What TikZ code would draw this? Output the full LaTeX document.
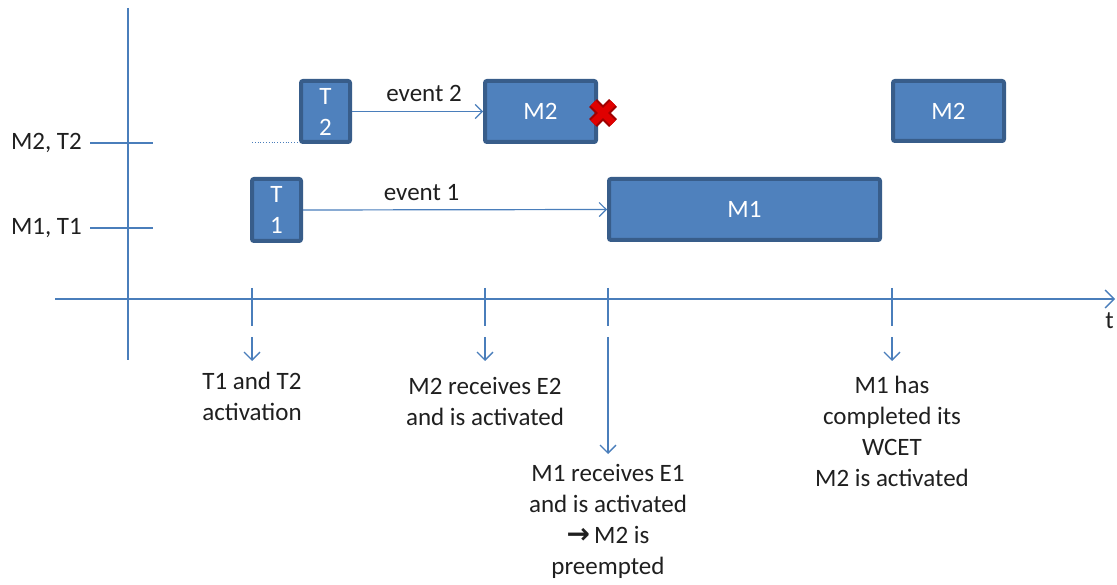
\documentclass[tikz,border=0pt]{standalone}
\usepackage{fontspec}
\setmainfont{Carlito}
\newfontfamily\dejavu{DejaVu Sans}
\usetikzlibrary{arrows.meta}
\definecolor{boxfill}{HTML}{4F81BD}
\definecolor{boxline}{HTML}{385D8A}
\definecolor{axis}{HTML}{4A7EBB}
\definecolor{txt}{HTML}{1F1F1F}
\definecolor{xred}{HTML}{E00000}
\definecolor{xdark}{HTML}{A00000}
\tikzset{
  box/.style={draw=boxline, fill=boxfill, line width=4pt, rounded corners=2pt,
    text=white, font=\fontsize{25}{31}\selectfont, align=center, inner sep=0pt},
  axisline/.style={draw=axis, line width=1.3pt},
  openarrow/.style={axisline, -{Straight Barb[length=9pt, width=18pt, line width=1.3pt]}},
  lbl/.style={text=txt, font=\fontsize{25}{31}\selectfont, align=center, inner sep=0pt},
}
\begin{document}
\begin{tikzpicture}[x=1pt, y=-1pt]
\useasboundingbox (0,0) rectangle (1117,585);
% axes
\coordinate (vtop) at (128,8);
\coordinate (vbot) at (128,360);
\coordinate (hleft) at (55,299);
\coordinate (hright) at (1115,299);
\draw[axisline] (vtop) -- (vbot);
\draw[openarrow] (hleft) -- (hright);
\node[lbl, anchor=north east] (t) at (1114,312) {t};
% row ticks
\coordinate (r2a) at (90,143); \coordinate (r2b) at (153,143);
\coordinate (r1a) at (90,228); \coordinate (r1b) at (153,228);
\draw[axisline] (r2a) -- (r2b);
\draw[axisline] (r1a) -- (r1b);
\node[lbl, anchor=east] (lab2) at (82,143) {M2, T2};
\node[lbl, anchor=east] (lab1) at (82,228) {M1, T1};
% boxes
\node[box, minimum width=49pt, minimum height=61pt] (T2) at (325.5,111.5) {T\\2};
\node[box, minimum width=111pt, minimum height=61pt] (M2a) at (540.5,111.5) {M2};
\node[box, minimum width=111pt, minimum height=60pt] (M2b) at (948.5,111) {M2};
\node[box, minimum width=49pt, minimum height=62pt] (T1) at (276.5,210) {T\\1};
\node[box, minimum width=271pt, minimum height=61pt] (M1) at (744.5,209.5) {M1};
% dotted line to T2
\coordinate (dotstart) at (252,142);
\draw[draw=axis, line width=0.8pt, dotted] (dotstart) -- (dotstart -| T2.west);
% event arrows
\draw[openarrow, line width=1.2pt, -{Straight Barb[length=7pt, width=14pt, line width=1.2pt]}] (T2.east) -- node[lbl, above=9pt, pos=0.55] {event 2} (M2a.west);
\draw[openarrow, line width=1.2pt, -{Straight Barb[length=7pt, width=14pt, line width=1.2pt]}] (T1.east) -- node[lbl, above=9pt, pos=0.39] {event 1} (M1.west);
% red cross
\coordinate (xm) at (603,113);
\draw[xdark, line width=11pt] ([shift={(-10,-10)}]xm) -- ([shift={(10,10)}]xm) ([shift={(-10,10)}]xm) -- ([shift={(10,-10)}]xm);
\draw[xred, line width=7pt] ([shift={(-10,-10)}]xm) -- ([shift={(10,10)}]xm) ([shift={(-10,10)}]xm) -- ([shift={(10,-10)}]xm);
% time ticks
\foreach \n/\x in {a/252, b/485, c/608, d/892} {
  \coordinate (tt\n) at (\x,288);
  \coordinate (tb\n) at (\x,326);
  \draw[axisline] (tt\n) -- (tb\n);
}
% down arrows
\coordinate (da1) at (252,337); \coordinate (da2) at (252,361);
\coordinate (db1) at (485,337); \coordinate (db2) at (485,361);
\coordinate (dc1) at (608,337); \coordinate (dc2) at (608,454);
\coordinate (dd1) at (892,337); \coordinate (dd2) at (892,361);
\draw[openarrow, -{Straight Barb[length=8pt, width=16pt, line width=1.3pt]}] (da1) -- (da2);
\draw[openarrow, -{Straight Barb[length=8pt, width=16pt, line width=1.3pt]}] (db1) -- (db2);
\draw[openarrow, -{Straight Barb[length=8pt, width=16pt, line width=1.3pt]}] (dc1) -- (dc2);
\draw[openarrow, -{Straight Barb[length=8pt, width=16pt, line width=1.3pt]}] (dd1) -- (dd2);
% captions
\node[lbl, anchor=north] (ca) at (252,372) {T1 and T2\\activation};
\node[lbl, anchor=north] (cb) at (485,377) {M2 receives E2\\and is activated};
\node[lbl, anchor=north] (cc) at (608,464) {M1 receives E1\\and is activated\\{\dejavu\bfseries\fontsize{28}{31}\selectfont →}\,M2 is\\preempted};
\node[lbl, anchor=north] (cd) at (892,376) {M1 has\\completed its\\WCET\\M2 is activated};
\end{tikzpicture}
\end{document}
